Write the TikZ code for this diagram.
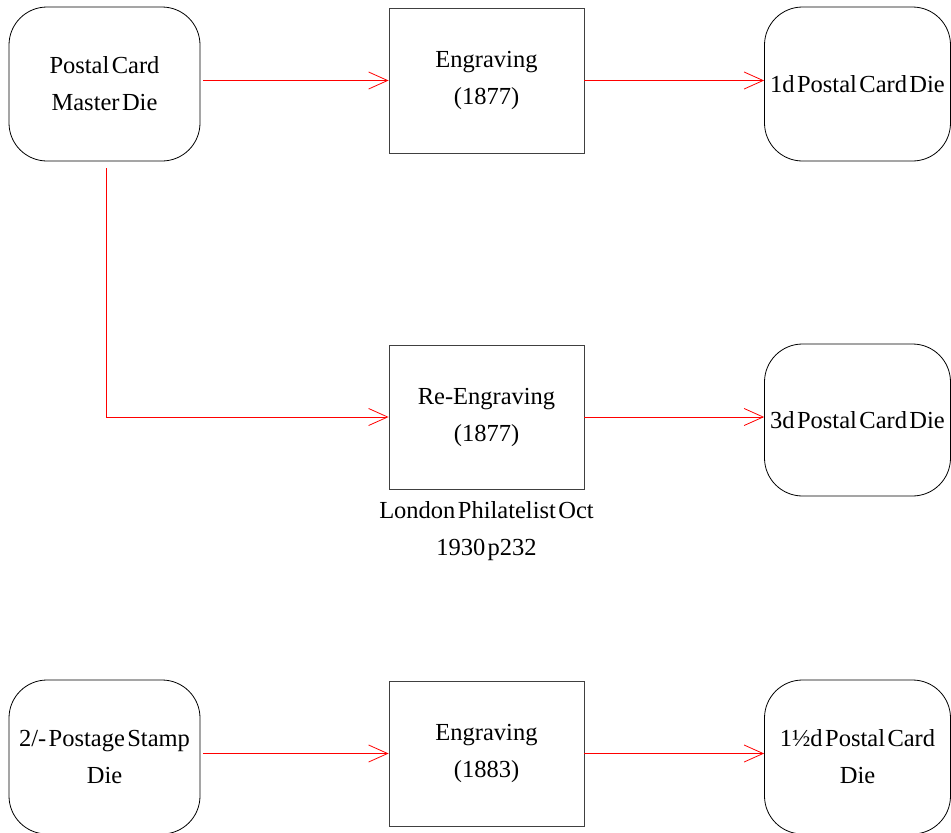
\documentclass[tikz,border=0pt]{standalone}
\usepackage{fontspec}
\setmainfont{Liberation Serif}[WordSpace=0.4]
\usetikzlibrary{arrows.meta}
\begin{document}
\begin{tikzpicture}[x=1pt,y=-1pt,
  txt/.style={font=\fontsize{24.5}{37}\selectfont, align=center, inner sep=0pt},
  die/.style={txt, draw=black, line width=0.8pt, rounded corners=38pt},
  proc/.style={txt, draw=black!75, line width=0.8pt, minimum width=195pt, minimum height=145pt},
  flow/.style={draw=red, line width=0.8pt, -{Straight Barb[length=19pt,width=17pt]}}]
\useasboundingbox (0,0) rectangle (951,833);
\node[die, minimum width=191pt, minimum height=154pt] (master) at (104.5,84) {Postal Card\\Master Die};
\node[proc] (eng1) at (486.5,80.5) {Engraving\\(1877)};
\node[die, minimum width=186pt, minimum height=154pt] (d1) at (857.5,84) {1d Postal Card Die};
\node[proc, minimum height=144pt] (reeng) at (486.5,417) {Re-Engraving\\(1877)};
\node[die, minimum width=186pt, minimum height=152pt] (d3) at (857.5,420) {3d Postal Card Die};
\node[txt] (src) at (486.5,531) {London Philatelist Oct\\1930 p232};
\node[die, minimum width=191pt, minimum height=154pt] (stamp) at (104.5,757) {2/- Postage Stamp\\Die};
\node[proc] (eng3) at (486.5,753.5) {Engraving\\(1883)};
\node[die, minimum width=186pt, minimum height=154pt] (d15) at (857.5,757) {1½d Postal Card\\Die};
\draw[flow, shorten <=3pt] (eng1.west -| master.east) -- (eng1.west);
\draw[flow] (eng1.east) -- (eng1.east -| d1.west);
\draw[flow, shorten <=7pt] ([xshift=1.5pt]master.south) |- (reeng.west);
\draw[flow] (reeng.east) -- (reeng.east -| d3.west);
\draw[flow, shorten <=3pt] (eng3.west -| stamp.east) -- (eng3.west);
\draw[flow] (eng3.east) -- (eng3.east -| d15.west);
\end{tikzpicture}
\end{document}
